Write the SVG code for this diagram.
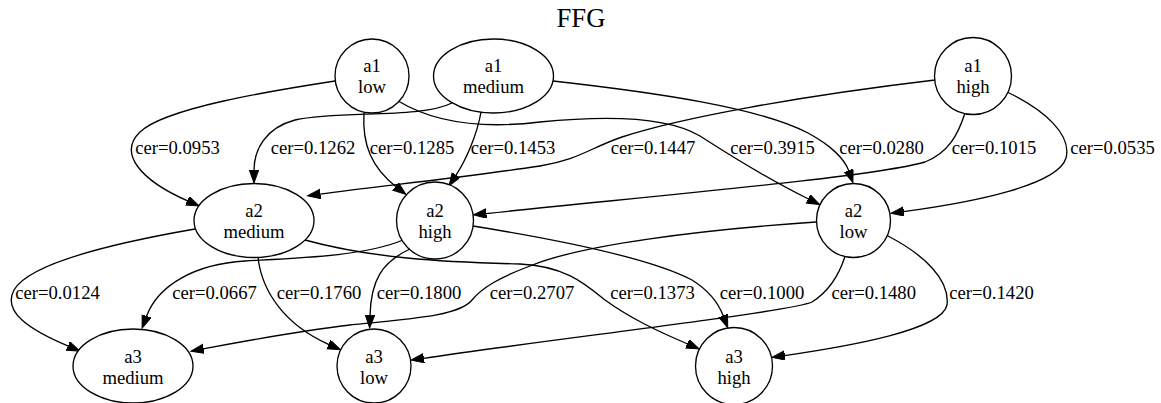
<svg xmlns="http://www.w3.org/2000/svg" width="1161" height="403" viewBox="0 0 1161 403">
<style>
.n{fill:#fff;stroke:#000;stroke-width:1.33}
.t{font-family:"Liberation Serif","Times New Roman",serif;font-size:18.67px;text-anchor:middle;fill:#000}
.e{fill:none;stroke:#000;stroke-width:1.33;marker-end:url(#ah)}
.title{font-family:"Liberation Serif","Times New Roman",serif;font-size:26.67px;text-anchor:middle;fill:#000}
</style>
<defs>
<marker id="ah" markerUnits="userSpaceOnUse" markerWidth="15" markerHeight="11" refX="0.5" refY="4.7" orient="auto" viewBox="0 0 15 11">
<path d="M0,0 L13,4.7 L0,9.4 z" fill="#000" stroke="#000" stroke-width="1"/>
</marker>
</defs>
<rect width="1161" height="403" fill="#fff"/>
<text class="title" x="581" y="27">FFG</text>
<g id="edges">
<path class="e" d="M335,81 C270,91 165,108 140,132 C118,153 140,180 187.7,200.9"/>
<path class="e" d="M452,103 C420,119 340,110 295,120 C265,128 254,150 254,170.5"/>
<path class="e" d="M364,113 C362,145 372,168 396,186.7"/>
<path class="e" d="M481,112 C477,135 466,160 455.9,175.4"/>
<path class="e" d="M935,80 C800,96 680,118 622,137 C590,148 578,160 540,166 C460,178 380,186 319.9,194.1"/>
<path class="e" d="M399,101.5 C440,126 490,128 540,122 C600,116 665,115 700,136 C725,152 760,175 808.5,199"/>
<path class="e" d="M553,81 C660,93 760,108 808,133 C832,146 845,160 848.8,170.9"/>
<path class="e" d="M965,113 C958,135 948,153 925,162 C870,178 620,199 485.9,213.6"/>
<path class="e" d="M1007,92 C1045,110 1072,135 1066,158 C1058,185 975,202 903.4,211.6"/>
<path class="e" d="M195,229 C120,242 30,262 14,290 C2,312 30,330 68.4,346.2"/>
<path class="e" d="M403,240 C365,256 300,258 245,261 C195,264 158,285 146.4,316.5"/>
<path class="e" d="M258,257.5 C262,292 285,325 329,344.6"/>
<path class="e" d="M410,249 C382,262 371,280 370,315.5"/>
<path class="e" d="M816,222 C700,230 580,245 530,266 C498,278 482,288 472,300 C460,315 420,318 350,325 C300,331 250,340 203.1,348.9"/>
<path class="e" d="M305,240 C370,258 440,262 520,264 C565,266 585,284 605,300 C630,318 655,330 687.7,344"/>
<path class="e" d="M473,226 C560,240 650,258 692,280 C708,290 718,302 723.3,316"/>
<path class="e" d="M845,256.5 C838,278 828,292 812,302 C790,312 560,338 423.4,358.3"/>
<path class="e" d="M887,235.5 C925,255 950,280 947,305 C942,330 850,346 784.4,355.6"/>
</g>
<g id="edge-labels">
<text class="t" x="177.5" y="154">cer=0.0953</text>
<text class="t" x="313" y="154">cer=0.1262</text>
<text class="t" x="412" y="154">cer=0.1285</text>
<text class="t" x="513" y="154">cer=0.1453</text>
<text class="t" x="653" y="154">cer=0.1447</text>
<text class="t" x="772.5" y="154">cer=0.3915</text>
<text class="t" x="881.5" y="154">cer=0.0280</text>
<text class="t" x="994" y="154">cer=0.1015</text>
<text class="t" x="1112.5" y="154">cer=0.0535</text>
<text class="t" x="57.5" y="298.5">cer=0.0124</text>
<text class="t" x="214.5" y="298.5">cer=0.0667</text>
<text class="t" x="319" y="298.5">cer=0.1760</text>
<text class="t" x="419" y="298.5">cer=0.1800</text>
<text class="t" x="532" y="298.5">cer=0.2707</text>
<text class="t" x="652.5" y="298.5">cer=0.1373</text>
<text class="t" x="762" y="298.5">cer=0.1000</text>
<text class="t" x="873.7" y="298.5">cer=0.1480</text>
<text class="t" x="991.5" y="298.5">cer=0.1420</text>
</g>
<g id="a1_low"><circle class="n" cx="372" cy="76" r="37"/><text class="t" x="372" y="72">a1</text><text class="t" x="372" y="93">low</text></g>
<g id="a1_medium"><ellipse class="n" cx="493.5" cy="76" rx="60" ry="37"/><text class="t" x="493.5" y="72">a1</text><text class="t" x="493.5" y="93">medium</text></g>
<g id="a1_high"><circle class="n" cx="973" cy="76" r="38.5"/><text class="t" x="973" y="72">a1</text><text class="t" x="973" y="93">high</text></g>
<g id="a2_medium"><ellipse class="n" cx="254" cy="220.5" rx="60" ry="37"/><text class="t" x="254" y="217">a2</text><text class="t" x="254" y="238">medium</text></g>
<g id="a2_high"><circle class="n" cx="435" cy="220.5" r="38.5"/><text class="t" x="435" y="217">a2</text><text class="t" x="435" y="238">high</text></g>
<g id="a2_low"><circle class="n" cx="853.5" cy="220.5" r="37"/><text class="t" x="853.5" y="217">a2</text><text class="t" x="853.5" y="238">low</text></g>
<g id="a3_medium"><ellipse class="n" cx="133" cy="366" rx="60" ry="37"/><text class="t" x="133" y="362.5">a3</text><text class="t" x="133" y="383.5">medium</text></g>
<g id="a3_low"><circle class="n" cx="374" cy="366" r="37"/><text class="t" x="374" y="362.5">a3</text><text class="t" x="374" y="383.5">low</text></g>
<g id="a3_high"><circle class="n" cx="734" cy="366" r="38.5"/><text class="t" x="734" y="362.5">a3</text><text class="t" x="734" y="383.5">high</text></g>
</svg>
